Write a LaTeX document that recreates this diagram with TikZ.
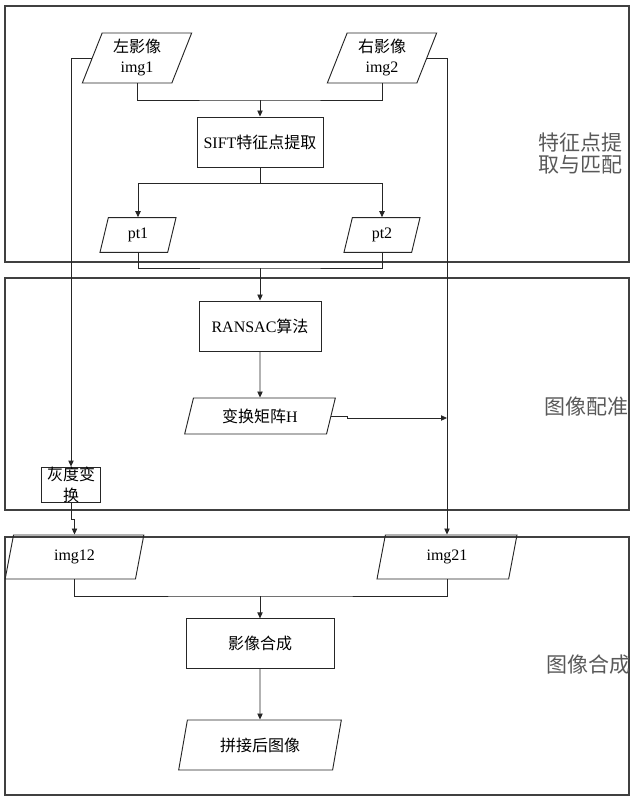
\documentclass[tikz,border=0pt]{standalone}
\usepackage{fontspec}
\setmainfont{Liberation Serif}
\newfontfamily\cjk{Noto Sans CJK SC}
\usetikzlibrary{shapes.geometric, arrows.meta}

\begin{document}
\begin{tikzpicture}[x=0.75pt, y=-0.75pt,
    every node/.style={font=\fontsize{12}{15}\selectfont},
    line/.style={draw=black!85, line width=0.6pt},
    arr/.style={line, -{Triangle[length=4.5pt, width=4pt]}},
    frame/.style={draw=black!75, line width=0.9pt},
    procbox/.style={draw=black!85, line width=0.7pt, rectangle, inner sep=0pt},
    iobox/.style={draw=black!85, line width=0.7pt, trapezium, trapezium left angle=63.4,
      trapezium right angle=116.6, trapezium stretches body, inner sep=1pt, align=center},
    stage/.style={text=black!65, font=\cjk\fontsize{15.75}{16.5}\selectfont, align=center}]
  \useasboundingbox (0, 0) rectangle (634, 800);

  % three stages
  \draw[frame] (5, 6) rectangle (629, 262);
  \draw[frame] (5, 278) rectangle (629, 510);
  \draw[frame] (5, 537) rectangle (629, 795);
  \node[stage] (s1) at (580, 154) {特征点提\\取与匹配};
  \node[stage] (s2) at (586, 407) {图像配准};
  \node[stage] (s3) at (588, 665) {图像合成};

  \node[iobox, minimum width=82pt, minimum height=37.5pt] (img1) at (137, 58) {{\cjk 左影像}\\img1};
  \node[iobox, minimum width=82pt, minimum height=37.5pt] (img2) at (382, 58) {{\cjk 右影像}\\img2};
  \node[procbox, minimum width=94.5pt, minimum height=37.5pt] (sift) at (260, 142) {SIFT{\cjk 特征点提取}};
  \node[iobox, minimum width=57pt, minimum height=26pt] (pt1) at (138, 235) {pt1};
  \node[iobox, minimum width=57pt, minimum height=26pt] (pt2) at (382, 235) {pt2};
  \node[procbox, minimum width=91.5pt, minimum height=37.5pt] (ransac) at (260, 326) {RANSAC{\cjk 算法}};
  \node[iobox, minimum width=113pt, minimum height=27pt] (mat) at (260, 416) {{\cjk 变换矩阵}H};
  \node[procbox, minimum width=44pt, minimum height=26pt, text width=36pt, align=center,
    font=\cjk\fontsize{12}{15.75}\selectfont] (gray) at (71, 485) {灰度变\\换};
  \node[iobox, minimum width=104pt, minimum height=33pt] (img12) at (74.5, 557) {img12};
  \node[iobox, minimum width=105pt, minimum height=33pt] (img21) at (447, 557) {img21};
  \node[procbox, minimum width=111pt, minimum height=37pt] (merge) at (260, 643.5) {\cjk 影像合成};
  \node[iobox, minimum width=122pt, minimum height=37.5pt] (result) at (260, 745) {\cjk 拼接后图像};

  \coordinate (j1) at (260, 100);
  \coordinate (j2) at (260, 183);
  \coordinate (j3) at (260, 268);
  \coordinate (j4) at (260, 596);
  \coordinate (hr) at (447, 418);

  \draw[line] (img1.south) |- (j1) -| (img2.south);
  \draw[arr] (j1) -- (sift.north);
  \draw[line] (sift.south) -- (j2);
  \draw[arr] (j2) -| (pt1.north);
  \draw[arr] (j2) -| (pt2.north);
  \draw[line] (pt1.south) |- (j3) -| (pt2.south);
  \draw[arr] (j3) -- (ransac.north);
  \draw[arr] (ransac.south) -- (mat.north);
  \draw[arr] (mat.east) -- ++(16, 0) |- (hr);
  \draw[arr] (img2.east) -| (img21.north);
  \draw[arr] (img1.west) -| (gray.north);
  \draw[arr] (gray.south) -- ++(0, 16) -| (img12.north);
  \draw[line] (img12.south) |- (j4) -| (img21.south);
  \draw[arr] (j4) -- (merge.north);
  \draw[arr] (merge.south) -- (result.north);
\end{tikzpicture}
\end{document}
